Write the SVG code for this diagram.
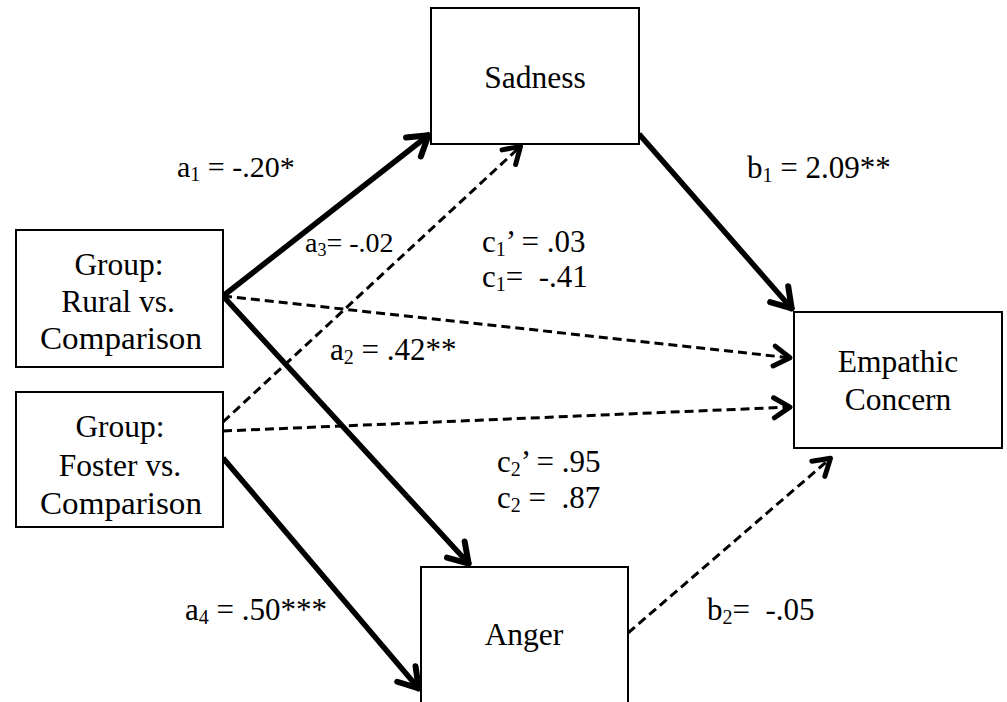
<svg xmlns="http://www.w3.org/2000/svg" width="1007" height="702" viewBox="0 0 1007 702">
<style>
.box{fill:#fff;stroke:#000;stroke-width:2}
.t{font-family:"Liberation Serif","Times New Roman",serif;font-size:31.5px;fill:#000;text-anchor:middle}
.l{font-family:"Liberation Serif","Times New Roman",serif;font-size:31px;fill:#000;white-space:pre}
.sub{font-size:20px}
.thick{stroke:#000;stroke-width:5.5;fill:none;marker-end:url(#ah)}
.dash{stroke:#000;stroke-width:3;fill:none;stroke-dasharray:9 5;marker-end:url(#ad)}
</style>
<defs>
<marker id="ah" markerUnits="userSpaceOnUse" markerWidth="60" markerHeight="60" refX="0" refY="0" orient="auto" overflow="visible" viewBox="-30 -30 60 60">
<path d="M-21,-12 L-2,0 L-21,12" fill="none" stroke="#000" stroke-width="6" stroke-linecap="round" stroke-linejoin="round"/>
</marker>
<marker id="ad" markerUnits="userSpaceOnUse" markerWidth="60" markerHeight="60" refX="0" refY="0" orient="auto" overflow="visible" viewBox="-30 -30 60 60">
<path d="M-18,-10 L-2,0 L-18,10" fill="none" stroke="#000" stroke-width="5" stroke-linecap="round" stroke-linejoin="round"/>
</marker>
</defs>
<rect width="1007" height="702" fill="#fff"/>
<g id="connectors">
<line class="thick" x1="223" y1="296" x2="430" y2="134"/>
<line class="thick" x1="223" y1="296" x2="470" y2="565"/>
<line class="dash" x1="223" y1="296" x2="792" y2="358"/>
<line class="dash" x1="223" y1="422" x2="522" y2="145"/>
<line class="dash" x1="223" y1="431" x2="792" y2="407"/>
<line class="thick" x1="223" y1="458" x2="420" y2="690"/>
<line class="thick" x1="639" y1="134" x2="793" y2="310"/>
<line class="dash" x1="628" y1="633" x2="832" y2="457"/>
</g>
<g id="sadness"><rect class="box" x="431" y="8" width="208" height="136"/><text class="t" x="535" y="88">Sadness</text></g>
<g id="rural"><rect class="box" x="16" y="230" width="207" height="137"/><text class="t" x="119" y="275">Group:</text><text class="t" x="118" y="312">Rural vs.</text><text class="t" x="121" y="349" textLength="162" lengthAdjust="spacingAndGlyphs">Comparison</text></g>
<g id="foster"><rect class="box" x="16" y="392" width="207" height="135"/><text class="t" x="120" y="437">Group:</text><text class="t" x="120" y="476">Foster vs.</text><text class="t" x="121" y="514" textLength="162" lengthAdjust="spacingAndGlyphs">Comparison</text></g>
<g id="empathic"><rect class="box" x="794" y="312" width="208" height="136"/><text class="t" x="898" y="372">Empathic</text><text class="t" x="898" y="410">Concern</text></g>
<g id="anger"><rect class="box" x="421" y="567" width="207" height="150"/><text class="t" x="524" y="645">Anger</text></g>
<g id="labels">
<text class="l" x="177" y="177" style="font-size:30px">a<tspan class="sub" dy="4">1</tspan><tspan dy="-4"> = -.20*</tspan></text>
<text class="l" x="305" y="252" style="font-size:28px">a<tspan class="sub" dy="4" style="font-size:18px">3</tspan><tspan dy="-4">= -.02</tspan></text>
<text class="l" x="482" y="252">c<tspan class="sub" dy="4">1</tspan><tspan dy="-4">’ = .03</tspan></text>
<text class="l" x="482" y="287">c<tspan class="sub" dy="4">1</tspan><tspan dy="-4">=  -.41</tspan></text>
<text class="l" x="330" y="360">a<tspan class="sub" dy="4">2</tspan><tspan dy="-4"> = .42**</tspan></text>
<text class="l" x="747" y="178">b<tspan class="sub" dy="4">1</tspan><tspan dy="-4"> = 2.09**</tspan></text>
<text class="l" x="497" y="472">c<tspan class="sub" dy="4">2</tspan><tspan dy="-4">’ = .95</tspan></text>
<text class="l" x="497" y="508">c<tspan class="sub" dy="4">2</tspan><tspan dy="-4"> =  .87</tspan></text>
<text class="l" x="707" y="620">b<tspan class="sub" dy="4">2</tspan><tspan dy="-4">=  -.05</tspan></text>
<text class="l" x="185" y="620">a<tspan class="sub" dy="4">4</tspan><tspan dy="-4"> = .50***</tspan></text>
</g>
</svg>
